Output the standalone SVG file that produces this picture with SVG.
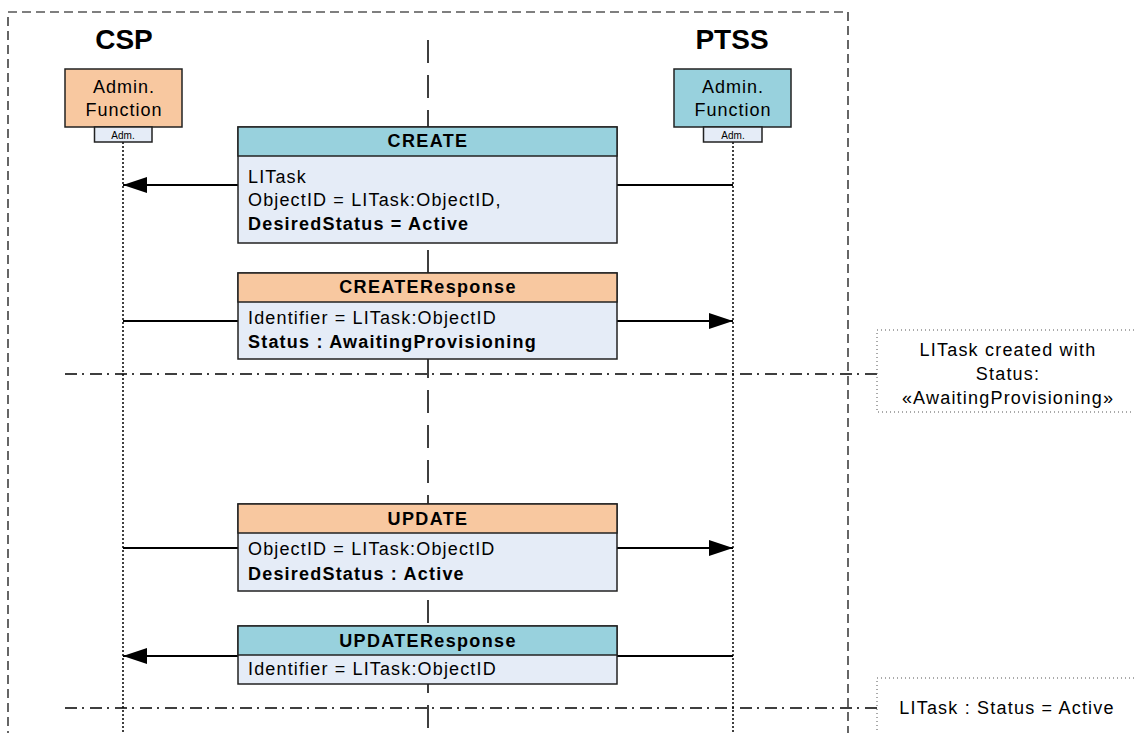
<svg xmlns="http://www.w3.org/2000/svg" width="1134" height="733" viewBox="0 0 1134 733">
<style>
text{font-family:"Liberation Sans",Arial,sans-serif;fill:#000}
.title{font-size:28px;font-weight:bold;text-anchor:middle}
.hdr{font-size:18px;font-weight:bold;text-anchor:middle;letter-spacing:1.35px}
.bd{font-size:18px;letter-spacing:1.15px}
.bb{font-size:18px;font-weight:bold;letter-spacing:1.2px}
.act{font-size:18px;text-anchor:middle;letter-spacing:1px}
.adm{font-size:10px;text-anchor:middle}
.note{font-size:18px;text-anchor:middle;letter-spacing:1.2px}
.box{stroke:#222;stroke-width:1.5}
.cyan{fill:#98D1DD}
.peach{fill:#F8C8A0}
.body{fill:#E5ECF7}
.life{stroke:#000;stroke-width:1.5;stroke-dasharray:2 2;fill:none}
.msg{stroke:#000;stroke-width:2;fill:none}
.dd{stroke:#000;stroke-width:1.5;stroke-dasharray:12 5 2 6;fill:none}
.nb{fill:#fff;stroke:#555;stroke-width:1;stroke-dasharray:1 3}
</style>
<defs>
<marker id="ah" markerWidth="24" markerHeight="16" refX="24" refY="8" orient="auto" markerUnits="userSpaceOnUse">
<path d="M0,0 L24,8 L0,16 Z" fill="#000"/>
</marker>
</defs>
<rect width="1134" height="733" fill="#fff"/>
<g id="frame">
<path d="M8,740 V12 H848 V740" fill="none" stroke="#000" stroke-width="1.2" stroke-dasharray="9 5"/>
</g>
<g id="center-line">
<line x1="428" y1="40" x2="428" y2="733" stroke="#000" stroke-width="1.5" stroke-dasharray="23 12"/>
</g>
<g id="lifelines">
<line class="life" x1="123" y1="142" x2="123" y2="733"/>
<line class="life" x1="733" y1="142" x2="733" y2="733"/>
</g>
<g id="phase-lines">
<line class="dd" x1="65" y1="374" x2="877" y2="374"/>
<line class="dd" x1="65" y1="708" x2="877" y2="708"/>
</g>
<g id="connectors">
<line class="msg" x1="733" y1="185" x2="123" y2="185" marker-end="url(#ah)"/>
<line class="msg" x1="123" y1="321" x2="733" y2="321" marker-end="url(#ah)"/>
<line class="msg" x1="123" y1="548" x2="733" y2="548" marker-end="url(#ah)"/>
<line class="msg" x1="733" y1="656" x2="123" y2="656" marker-end="url(#ah)"/>
</g>
<g id="csp">
<text class="title" x="124" y="49">CSP</text>
<rect class="box peach" x="65" y="69" width="117" height="58"/>
<text class="act" x="124" y="93">Admin.</text>
<text class="act" x="124" y="116">Function</text>
<rect class="box body" x="94.5" y="127" width="57.5" height="15" stroke-width="1"/>
<text class="adm" x="123" y="138.5">Adm.</text>
</g>
<g id="ptss">
<text class="title" x="732" y="49">PTSS</text>
<rect class="box cyan" x="674" y="69" width="117" height="58"/>
<text class="act" x="733" y="93">Admin.</text>
<text class="act" x="733" y="116">Function</text>
<rect class="box body" x="703.5" y="127" width="58.5" height="15" stroke-width="1"/>
<text class="adm" x="733" y="138.5">Adm.</text>
</g>
<g id="create">
<rect class="box body" x="238" y="127" width="379" height="116"/>
<rect class="box cyan" x="238" y="127" width="379" height="29"/>
<text class="hdr" x="428" y="147">CREATE</text>
<text class="bd" x="248" y="183">LITask</text>
<text class="bd" x="248" y="206">ObjectID = LITask:ObjectID,</text>
<text class="bb" x="248" y="230">DesiredStatus = Active</text>
</g>
<g id="create-response">
<rect class="box body" x="238" y="273" width="379" height="86"/>
<rect class="box peach" x="238" y="273" width="379" height="29"/>
<text class="hdr" x="428" y="293">CREATEResponse</text>
<text class="bd" x="248" y="324">Identifier = LITask:ObjectID</text>
<text class="bb" x="248" y="348">Status : AwaitingProvisioning</text>
</g>
<g id="update">
<rect class="box body" x="238" y="504" width="379" height="87"/>
<rect class="box peach" x="238" y="504" width="379" height="29"/>
<text class="hdr" x="428" y="525">UPDATE</text>
<text class="bd" x="248" y="555">ObjectID = LITask:ObjectID</text>
<text class="bb" x="248" y="580">DesiredStatus : Active</text>
</g>
<g id="update-response">
<rect class="box body" x="238" y="626" width="379" height="58"/>
<rect class="box cyan" x="238" y="626" width="379" height="29"/>
<text class="hdr" x="428" y="647">UPDATEResponse</text>
<text class="bd" x="248" y="675">Identifier = LITask:ObjectID</text>
</g>
<g id="note1">
<rect class="nb" x="877" y="330" width="270" height="82"/>
<text class="note" x="1008" y="356">LITask created with</text>
<text class="note" x="1008" y="380">Status:</text>
<text class="note" x="1008" y="404">«AwaitingProvisioning»</text>
</g>
<g id="note2">
<rect class="nb" x="877" y="678" width="270" height="70"/>
<text class="note" x="1007" y="714">LITask : Status = Active</text>
</g>
</svg>
